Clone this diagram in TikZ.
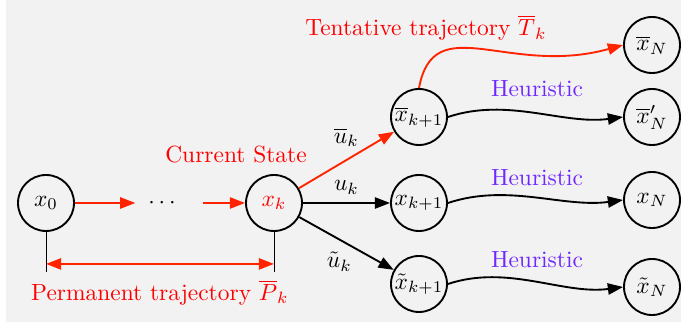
\documentclass[tikz,border=0pt]{standalone}
\usepackage{tikz}
\usetikzlibrary{arrows.meta,positioning,calc}
\definecolor{trajred}{RGB}{255,35,0}
\definecolor{heurviolet}{RGB}{110,40,255}
\definecolor{bggray}{HTML}{F2F2F2}

\begin{document}
\begin{tikzpicture}[x=0.015cm, y=-0.015cm,
      st/.style={draw, thick, circle, minimum size=0.84cm, inner sep=0pt, fill=bggray},
      arr/.style={-{Triangle[length=6.5pt,width=4.8pt]}, thick},
      rarr/.style={arr, trajred},
      heur/.style={text=heurviolet},
      lbl/.style={text=red}]
    \useasboundingbox (0,0) rectangle (681,331);
    \fill[bggray] (6,0) rectangle (681,322);
    % states
    \node[st] (x0) at (46,203) {$x_0$};
    \node (dots) at (162,203) {$\cdots$};
    \node[st, text=red] (xk) at (274,203) {$x_k$};
    \node[st] (xb1) at (419,117) {$\overline{x}_{k+1}$};
    \node[st] (x1) at (419,203) {$x_{k+1}$};
    \node[st] (xt1) at (419,284) {$\tilde{x}_{k+1}$};
    \node[st] (xbN) at (652,45) {$\overline{x}_N$};
    \node[st] (xbN2) at (652,117) {$\overline{x}'_N$};
    \node[st] (xN) at (652,200) {$x_N$};
    \node[st] (xtN) at (652,287) {$\tilde{x}_N$};
    % texts
    \node[lbl] (cur) at (236,155) {Current State};
    \node[lbl] (tent) at (426,28) {Tentative trajectory $\overline{T}_k$};
    \node[heur] (h1) at (537,89) {Heuristic};
    \node[heur] (h2) at (537,178) {Heuristic};
    \node[heur] (h3) at (537,260) {Heuristic};
    % permanent part
    \draw[rarr, shorten >=2pt] (x0) -- (dots);
    \draw[rarr, shorten <=8pt] (dots) -- (xk);
    \coordinate (pl) at ($(x0.south)+(0,32)$);
    \coordinate (pr) at ($(xk.south)+(0,32)$);
    \draw (x0.south) -- ++(0,40);
    \draw (xk.south) -- ++(0,40);
    \draw[rarr, {Triangle[length=6.5pt,width=4.8pt]}-{Triangle[length=6.5pt,width=4.8pt]}] (pl) -- (pr)
      node[midway, below=3pt, lbl] (perm) {Permanent trajectory $\overline{P}_k$};
    % controls
    \draw[rarr] (xk) -- (xb1) node[midway, above left=2pt and -9pt, text=black] {$\overline{u}_k$};
    \draw[arr] (xk) -- (x1) node[midway, above, text=black] {$u_k$};
    \draw[arr] (xk) -- (xt1) node[midway, below left=0pt and -6pt, text=black] {$\tilde{u}_k$};
    % rollouts
    \draw[rarr] (xb1.north) .. controls +(15,-80) and +(-115,32) .. (xbN.west);
    \draw[arr] (xb1.east) .. controls +(60,-20) and +(-60,8) .. (xbN2.west);
    \draw[arr] (x1.east) .. controls +(60,-20) and +(-60,8) .. (xN.west);
    \draw[arr] (xt1.east) .. controls +(60,-20) and +(-60,8) .. (xtN.west);
  \end{tikzpicture}
\end{document}
